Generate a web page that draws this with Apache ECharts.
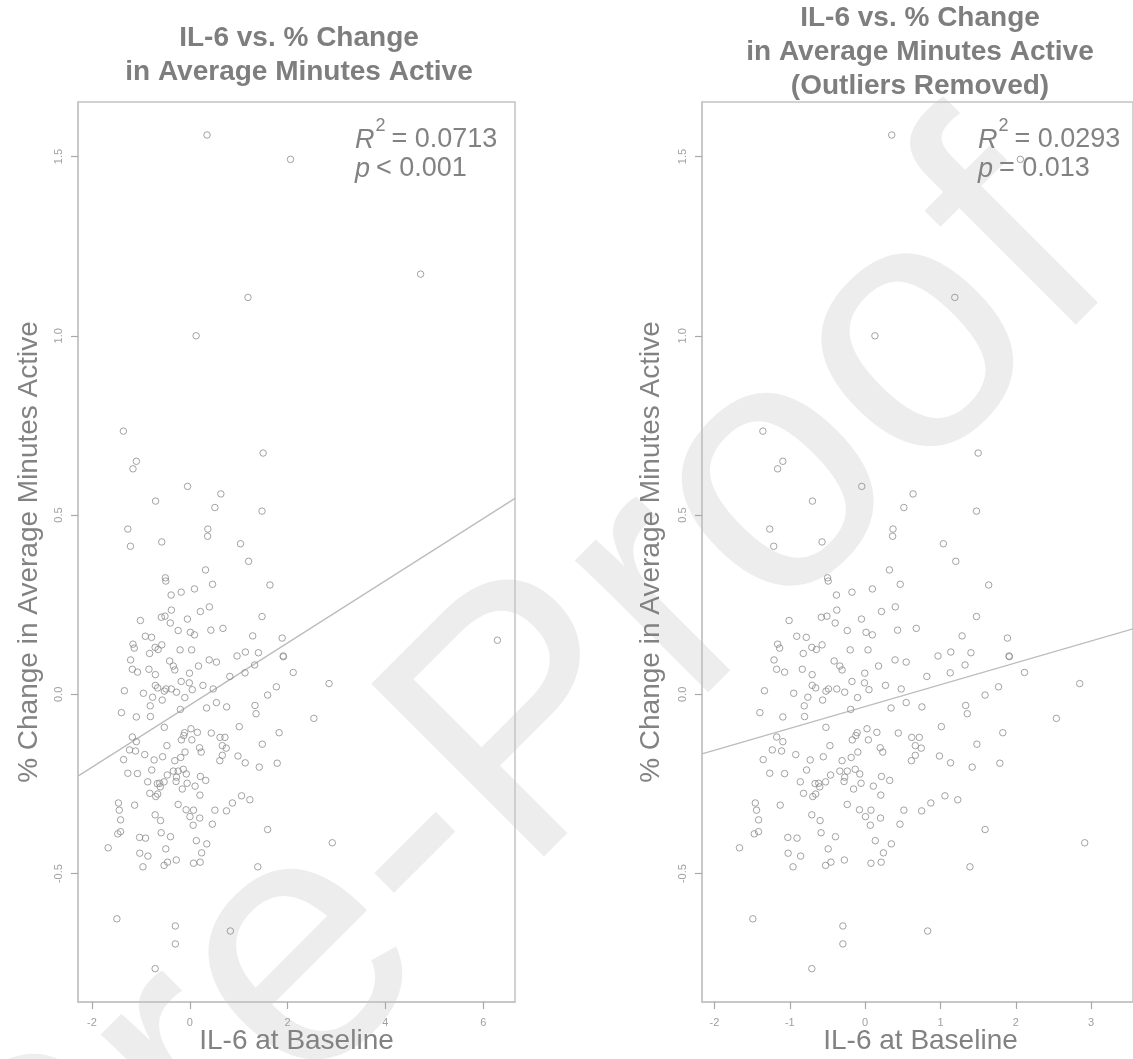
<!DOCTYPE html>
<html>
<head>
<meta charset="utf-8">
<script src="https://cdn.jsdelivr.net/npm/echarts@6/dist/echarts.min.js"></script>
<style>
  html, body { margin: 0; padding: 0; background: #ffffff; }
  #chart { width: 1133px; height: 1059px; }
</style>
</head>
<body>
<div id="chart"></div>
<script>
// IL-6 at baseline (x) vs. % change in average minutes active (y), retained subjects
const pointsKept = [
  [-1.161,0.140],[-1.135,0.129],[-0.708,0.131],[-0.647,0.125],[-0.572,0.138],[-0.821,0.114],[-0.198,0.124],[0.038,0.124],
  [-1.209,0.096],[-1.174,0.070],[-1.069,0.062],[-0.834,0.070],[-0.703,0.055],[-0.411,0.093],[-0.336,0.079],[-0.306,0.068],
  [-0.005,0.059],[0.178,0.079],[0.397,0.096],[0.545,0.090],[-0.175,0.036],[-0.009,0.032],[0.051,0.013],[0.270,0.025],
  [0.479,0.015],[-0.703,0.025],[-0.656,0.018],[-0.520,0.009],[-0.486,0.015],[-0.376,0.015],[-0.271,0.006],[-1.336,0.010],
  [-0.948,0.003],[-0.760,-0.008],[-0.564,-0.016],[-0.101,-0.009],[-0.808,-0.032],[-1.397,-0.051],[-1.092,-0.063],[-0.804,-0.062],
  [-0.192,-0.042],[0.344,-0.038],[0.545,-0.023],[-0.520,-0.092],[-1.174,-0.119],[-1.092,-0.132],[-0.106,-0.107],[-0.123,-0.115],
  [-0.171,-0.127],[0.025,-0.096],[0.156,-0.106],[0.043,-0.127],[0.440,-0.108],[-0.467,-0.143],[-1.232,-0.155],[-1.109,-0.158],
  [-1.353,-0.182],[-0.921,-0.168],[-0.729,-0.183],[-0.555,-0.174],[-0.306,-0.185],[-0.185,-0.176],[-0.097,-0.161],[0.200,-0.149],
  [0.234,-0.161],[-1.266,-0.220],[-1.069,-0.221],[-0.777,-0.211],[-0.860,-0.244],[-0.664,-0.249],[-0.616,-0.248],[-0.603,-0.258],
  [-0.525,-0.244],[-0.459,-0.225],[-0.336,-0.214],[-0.237,-0.214],[-0.271,-0.231],[-0.280,-0.243],[-0.132,-0.209],[-0.071,-0.222],
  [-0.054,-0.248],[-0.153,-0.264],[0.109,-0.256],[0.217,-0.229],[0.326,-0.240],[-0.817,-0.276],[-0.695,-0.285],[-0.656,-0.278],
  [0.208,-0.281],[-1.458,-0.303],[-1.441,-0.323],[-1.127,-0.309],[-0.237,-0.307],[-1.415,-0.350],[-1.471,-0.389],[-1.415,-0.383],
  [-0.708,-0.336],[-0.598,-0.352],[-0.075,-0.322],[0.004,-0.341],[0.077,-0.323],[0.069,-0.365],[0.204,-0.345],[0.514,-0.323],
  [0.462,-0.362],[-1.668,-0.428],[-1.026,-0.399],[-0.904,-0.401],[-0.585,-0.386],[-0.394,-0.397],[0.135,-0.408],[0.348,-0.417],
  [-1.022,-0.443],[-0.856,-0.451],[-0.490,-0.431],[0.243,-0.442],[-0.957,-0.481],[-0.525,-0.477],[-0.454,-0.468],[-0.276,-0.462],
  [0.077,-0.471],[0.213,-0.468],
  [-1.357,0.734],[-1.092,0.650],[-1.161,0.629],[-0.045,0.580],[-0.699,0.539],[0.514,0.521],[-1.266,0.461],[-1.213,0.413],
  [-0.572,0.425],[0.370,0.461],[0.365,0.441],[-0.499,0.325],[-0.490,0.316],[0.322,0.347],[-0.381,0.277],[-0.175,0.285],
  [0.096,0.294],[0.466,0.307],[-0.376,0.235],[-1.009,0.206],[-0.581,0.215],[-0.507,0.218],[-0.398,0.199],[-0.048,0.210],
  [0.217,0.231],[0.401,0.244],[-0.237,0.178],[0.012,0.173],[0.096,0.166],[0.431,0.179],[-0.908,0.162],[-0.781,0.159],
  [1.500,0.673],[0.636,0.559],[1.478,0.511],[1.038,0.420],[1.203,0.371],[1.640,0.305],[1.478,0.217],[0.679,0.184],
  [1.287,0.163],[1.889,0.157],
  [0.967,0.107],[1.137,0.118],[1.404,0.116],[1.910,0.107],[1.914,0.105],[1.326,0.082],[1.130,0.060],[0.819,0.050],
  [2.115,0.061],[1.771,0.021],[1.592,-0.002],[2.848,0.030],[0.754,-0.035],[1.334,-0.031],[1.356,-0.054],[2.538,-0.067],
  [1.012,-0.090],[0.619,-0.120],[0.719,-0.120],[0.666,-0.143],[0.745,-0.150],[0.666,-0.170],[0.614,-0.185],[0.986,-0.172],
  [1.134,-0.191],[1.421,-0.203],[1.827,-0.107],[1.483,-0.139],[1.788,-0.192],[1.059,-0.283],[1.229,-0.294],[0.872,-0.303],
  [0.750,-0.325],[1.592,-0.377],[2.914,-0.414],[1.391,-0.481],
  [0.353,1.560],[2.060,1.492],[1.190,1.107],[0.130,1.000],[-1.490,-0.626],[-0.295,-0.646],[-0.295,-0.696],[-0.708,-0.765],
  [0.830,-0.660]
];

// Subjects dropped as outliers (shown only in the full-sample panel)
const pointsOutliers = [[4.72,1.172],[6.29,0.151]];

// Tick positions
const xTicksAll = [-2, 0, 2, 4, 6];
const xTicksKept = [-2, -1, 0, 1, 2, 3];
const yTicks = [-0.5, 0, 0.5, 1, 1.5];

// Least-squares fits and summary statistics
const fitAll = { intercept: -0.030, slope: 0.0867 };
const fitKept = { intercept: -0.034, slope: 0.061 };
const statsAll = { r2: '0.0713', pOp: '<', p: '0.001' };
const statsKept = { r2: '0.0293', pOp: '=', p: '0.013' };

const FONT = '"Liberation Sans", Arial, Helvetica, sans-serif';
const TEXT_GREY = '#828282';
const TICK_GREY = '#a0a0a0';

const panels = [
  { left: 78, xMin: -2.285, xMax: 6.65, xTicks: xTicksAll,
    points: pointsKept.concat(pointsOutliers), fit: fitAll, stats: statsAll,
    title: 'IL-6 vs. % Change\nin Average Minutes Active', titleX: 299, titleY: 55,
    statX: 355, yTitleX: 29 },
  { left: 702, xMin: -2.165, xMax: 3.555, xTicks: xTicksKept,
    points: pointsKept, fit: fitKept, stats: statsKept,
    title: 'IL-6 vs. % Change\nin Average Minutes Active\n(Outliers Removed)', titleX: 920, titleY: 52,
    statX: 978, yTitleX: 651 }
];
const GRID_TOP = 102, GRID_W = 437, GRID_H = 900;
const Y_MIN = -0.858, Y_MAX = 1.652;

// text measurement for laying out the R² annotation
const measureCtx = document.createElement('canvas').getContext('2d');
function textWidth(str, font) { measureCtx.font = font; return measureCtx.measureText(str).width; }

const grids = [], xAxes = [], yAxes = [], series = [], graphics = [];

// light diagonal watermark behind the plots
graphics.push({
  type: 'text', x: 517, y: 745, rotation: 45 * Math.PI / 180, z: -1, silent: true,
  style: { text: 'Pre-Proof', font: '355px ' + FONT, fill: '#ededed',
           textAlign: 'center', textVerticalAlign: 'middle' }
});

panels.forEach((p, i) => {
  grids.push({ left: p.left, top: GRID_TOP, width: GRID_W, height: GRID_H,
    show: true, borderColor: '#c4c4c4', borderWidth: 1.5, backgroundColor: 'transparent' });

  xAxes.push({ gridIndex: i, type: 'value', min: p.xMin, max: p.xMax, position: 'bottom',
    axisLine: { show: true, onZero: false, lineStyle: { color: '#c4c4c4', width: 1.5 } },
    axisTick: { show: true, customValues: p.xTicks, length: 7, lineStyle: { color: '#a8a8a8', width: 1.2 } },
    axisLabel: { customValues: p.xTicks, color: TICK_GREY, fontSize: 11, fontFamily: FONT, margin: 15,
                 formatter: v => String(v) },
    splitLine: { show: false } });

  yAxes.push({ gridIndex: i, type: 'value', min: Y_MIN, max: Y_MAX, position: 'left',
    axisLine: { show: true, onZero: false, lineStyle: { color: '#c4c4c4', width: 1.5 } },
    axisTick: { show: true, customValues: yTicks, length: 7, lineStyle: { color: '#a8a8a8', width: 1.2 } },
    axisLabel: { customValues: yTicks, color: TICK_GREY, fontSize: 11, fontFamily: FONT, margin: 14,
                 rotate: 90, formatter: v => v.toFixed(1) },
    splitLine: { show: false } });

  series.push({ type: 'scatter', xAxisIndex: i, yAxisIndex: i, data: p.points,
    symbol: 'circle', symbolSize: 6.5, silent: true, z: 3,
    itemStyle: { color: 'rgba(0,0,0,0)', borderColor: '#8c8c8c', borderWidth: 1 } });

  const f = p.fit;
  series.push({ type: 'line', xAxisIndex: i, yAxisIndex: i, silent: true, z: 2,
    data: [[p.xMin, f.intercept + f.slope * p.xMin], [p.xMax, f.intercept + f.slope * p.xMax]],
    showSymbol: false, clip: true,
    lineStyle: { color: '#bcbcbc', width: 1.3 } });

  const cx = p.left + GRID_W / 2;
  graphics.push({ type: 'text', x: p.titleX, y: p.titleY, z: 10, silent: true,
    style: { text: p.title, font: 'bold 28px ' + FONT, fill: '#7e7e7e', lineHeight: 34,
             textAlign: 'center', textVerticalAlign: 'middle' } });
  graphics.push({ type: 'text', x: cx, y: 1041, z: 10, silent: true,
    style: { text: 'IL-6 at Baseline', font: '28px ' + FONT, fill: TEXT_GREY,
             textAlign: 'center', textVerticalAlign: 'middle' } });
  graphics.push({ type: 'text', x: p.yTitleX, y: GRID_TOP + GRID_H / 2, rotation: Math.PI / 2, z: 10, silent: true,
    style: { text: '% Change in Average Minutes Active', font: '28px ' + FONT, fill: TEXT_GREY,
             textAlign: 'center', textVerticalAlign: 'middle' } });

  // R-squared and p-value annotation
  const fItal = 'italic 27px ' + FONT, fReg = '27px ' + FONT, fSup = '18px ' + FONT;
  const wR = textWidth('R', fItal), w2 = textWidth('2', fSup), wp = textWidth('p', fItal);
  const row1 = 140, row2 = 169;
  graphics.push({ type: 'text', x: p.statX, y: row1, z: 10, silent: true,
    style: { text: 'R', font: fItal, fill: TEXT_GREY, textAlign: 'left', textVerticalAlign: 'middle' } });
  graphics.push({ type: 'text', x: p.statX + wR + 1, y: row1 - 14, z: 10, silent: true,
    style: { text: '2', font: fSup, fill: TEXT_GREY, textAlign: 'left', textVerticalAlign: 'middle' } });
  graphics.push({ type: 'text', x: p.statX + wR + w2 + 7, y: row1, z: 10, silent: true,
    style: { text: '= ' + p.stats.r2, font: fReg, fill: TEXT_GREY, textAlign: 'left', textVerticalAlign: 'middle' } });
  graphics.push({ type: 'text', x: p.statX, y: row2, z: 10, silent: true,
    style: { text: 'p', font: fItal, fill: TEXT_GREY, textAlign: 'left', textVerticalAlign: 'middle' } });
  graphics.push({ type: 'text', x: p.statX + wp + 6, y: row2, z: 10, silent: true,
    style: { text: p.stats.pOp + ' ' + p.stats.p, font: fReg, fill: TEXT_GREY, textAlign: 'left', textVerticalAlign: 'middle' } });
});

const chart = echarts.init(document.getElementById('chart'), null, { renderer: 'canvas' });
chart.setOption({
  backgroundColor: '#ffffff',
  animation: false,
  grid: grids,
  xAxis: xAxes,
  yAxis: yAxes,
  series: series,
  graphic: graphics
});
</script>
</body>
</html>
